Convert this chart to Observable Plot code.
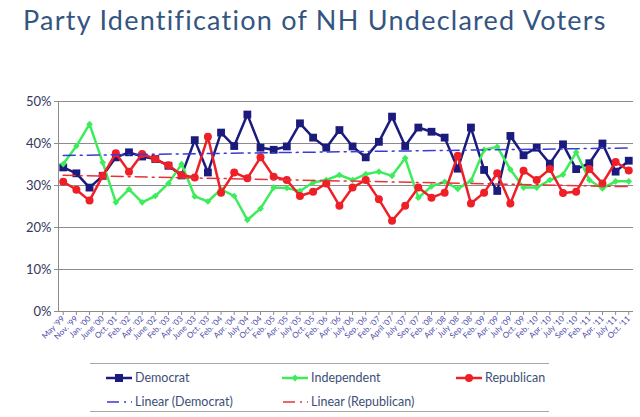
<!DOCTYPE html>
<html><head><meta charset="utf-8">
<script src="https://cdn.jsdelivr.net/npm/d3@7"></script>
<script src="https://cdn.jsdelivr.net/npm/@observablehq/plot@0.6"></script>
<style>
body{margin:0;background:#fff;font-family:Lato,"Open Sans",sans-serif;width:640px;height:417px;overflow:hidden;position:relative}
#title{position:absolute;left:23px;top:3px;font-size:27px;letter-spacing:1.25px;color:#34557f;white-space:nowrap}
#chart{position:absolute;left:0;top:50px}
#legend{position:absolute;left:90px;top:363px;width:459px;height:47px;border-top:1.5px solid #a8a8a8;border-bottom:1.5px solid #a8a8a8;font-size:12.5px;color:#3d4f78}
.item{position:absolute;display:flex;align-items:center;white-space:nowrap}
.item svg{margin-right:2px}
</style></head><body>
<div id="title">Party Identification of NH Undeclared Voters</div>
<div id="chart"></div>
<div id="legend"></div>
<script>
const dates = ["May '99","Nov. '99","Jan. '00","June '00","Oct. '01","Feb. '02","Apr. '02","June '02","Feb. '03","Apr. '03","June '03","Oct. '03","Feb. '04","Apr. '04","July '04","Oct. '04","Feb. '05","Apr. '05","July '05","Oct. '05","Feb. '06","Apr. '06","July '06","Sep. '06","Feb. '07","April '07","July '07","Sep. '07","Feb. '08","Apr. '08","July '08","Sep. '08","Feb. '09","Apr. '09","July '09","Oct. '09","Feb. '10","Apr. '10","July '10","Sep. '10","Feb. '11","Apr. '11","July '11","Oct. '11"];
const democrat = [34.3,32.9,29.5,32.3,36.7,37.9,36.9,36.3,34.7,32.4,40.8,33.1,42.6,39.4,46.9,39.0,38.5,39.3,44.8,41.4,39.0,43.2,39.3,36.7,40.4,46.4,39.4,43.8,42.8,41.4,34.0,43.8,33.7,28.7,41.8,37.2,39.0,35.2,39.8,33.9,35.3,40.0,33.3,35.9];
const independent = [35.1,39.4,44.6,35.5,26.0,29.1,26.0,27.5,30.5,35.1,27.4,26.2,29.1,27.5,21.8,24.5,29.5,29.4,28.7,30.7,31.3,32.5,31.3,32.7,33.3,32.3,36.5,27.1,29.8,30.9,29.2,31.1,38.5,39.2,33.8,29.5,29.5,31.3,32.6,37.9,31.3,29.3,31.0,31.0];
const republican = [30.9,29.0,26.4,32.3,37.7,33.3,37.5,36.3,34.8,32.5,31.9,41.6,28.3,33.1,31.7,36.7,32.1,31.3,27.5,28.5,30.5,25.2,29.5,31.3,26.7,21.6,25.2,29.5,27.1,28.3,37.1,25.7,28.3,32.9,25.7,33.5,31.3,33.9,28.2,28.5,33.9,30.5,35.6,33.6];
const yTicks = [0,0.1,0.2,0.3,0.4,0.5];
const seriesNames = ["Democrat","Independent","Republican"];
const colors = {Democrat:"#1b1b7e",Independent:"#3cec5a",Republican:"#ee1f26"};
const trendColors = {Democrat:"#3a3ad8",Republican:"#e8323a"};

const rows = [];
[democrat,independent,republican].forEach((arr,s)=>arr.forEach((v,i)=>rows.push({i,series:seriesNames[s],v:v/100})));
const of = s => rows.filter(d=>d.series===s);
const pad = 0.36;
const xDom = [-pad, dates.length-1+pad];

const chart = Plot.plot({
  width:640, height:312, marginLeft:58, marginRight:7, marginTop:51, marginBottom:51,
  style:{fontFamily:"Lato, 'Open Sans', sans-serif", background:"transparent"},
  x:{domain:xDom, label:null},
  y:{domain:[0,0.5], label:null},
  marks:[
    Plot.gridY(yTicks.slice(1), {stroke:"#8c8c8c", strokeOpacity:1, strokeWidth:1}),
    Plot.ruleY([0], {stroke:"#8c8c8c", strokeWidth:1}),
    Plot.ruleX([xDom[0]], {y1:0, y2:0.5, stroke:"#8c8c8c"}),
    Plot.axisY(yTicks, {tickFormat:d3.format(".0%"), tickSize:4, stroke:"#8c8c8c", fontSize:13, fill:"#34375e", tickPadding:3, label:null}),
    Plot.axisX(d3.range(dates.length), {tickFormat:i=>dates[i], tickSize:4, tickRotate:-45, fontSize:8, fill:"#4a4aa8", stroke:"#8c8c8c", tickPadding:2, label:null}),
    Plot.lineY(of("Democrat"), {x:"i", y:"v", stroke:colors.Democrat, strokeWidth:2.5}),
    Plot.dot(of("Democrat"), {x:"i", y:"v", symbol:"square", r:4.4, fill:colors.Democrat}),
    Plot.lineY(of("Independent"), {x:"i", y:"v", stroke:colors.Independent, strokeWidth:2.5}),
    Plot.dot(of("Independent"), {x:"i", y:"v", symbol:"diamond2", r:3, fill:colors.Independent}),
    Plot.lineY(of("Republican"), {x:"i", y:"v", stroke:colors.Republican, strokeWidth:2.5}),
    Plot.dot(of("Republican"), {x:"i", y:"v", symbol:"circle", r:4, fill:colors.Republican}),
    Plot.linearRegressionY(of("Democrat"), {x:"i", y:"v", stroke:trendColors.Democrat, strokeWidth:1.5, ci:0, strokeDasharray:"12,5,2,5"}),
    Plot.linearRegressionY(of("Republican"), {x:"i", y:"v", stroke:trendColors.Republican, strokeWidth:1.5, ci:0, strokeDasharray:"12,5,2,5"})
  ]
});
document.getElementById("chart").append(chart);

// legend
const legendItems = [
  {label:"Democrat", color:colors.Democrat, marker:"square", left:16, top:6},
  {label:"Independent", color:colors.Independent, marker:"diamond", left:192, top:6},
  {label:"Republican", color:colors.Republican, marker:"circle", left:366, top:6},
  {label:"Linear (Democrat)", color:trendColors.Democrat, marker:"dash", left:16, top:30},
  {label:"Linear (Republican)", color:trendColors.Republican, marker:"dash", left:192, top:30}
];
const legend = document.getElementById("legend");
legendItems.forEach(it=>{
  const div = document.createElement("div");
  div.className="item"; div.style.left=it.left+"px"; div.style.top=it.top+"px";
  let m = "";
  if(it.marker==="square") m = `<line x1="0" y1="7" x2="26" y2="7" stroke="${it.color}" stroke-width="2.5"/><rect x="9" y="3" width="8" height="8" fill="${it.color}"/>`;
  if(it.marker==="diamond") m = `<line x1="0" y1="7" x2="26" y2="7" stroke="${it.color}" stroke-width="2.5"/><path d="M13 3.5L16.5 7L13 10.5L9.5 7Z" fill="${it.color}"/>`;
  if(it.marker==="circle") m = `<line x1="0" y1="7" x2="26" y2="7" stroke="${it.color}" stroke-width="2.5"/><circle cx="13" cy="7" r="4" fill="${it.color}"/>`;
  if(it.marker==="dash") m = `<line x1="1" y1="7" x2="26" y2="7" stroke="${it.color}" stroke-width="1.5" stroke-dasharray="12,5,2,5"/>`;
  div.innerHTML = `<svg width="27" height="14">${m}</svg><span>${it.label}</span>`;
  legend.append(div);
});
</script>
</body></html>
